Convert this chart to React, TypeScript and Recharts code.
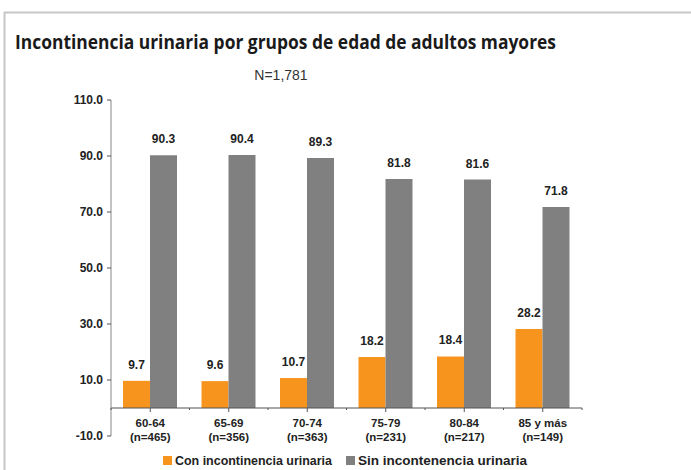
import React from "react";
import {
  BarChart,
  Bar,
  XAxis,
  YAxis,
  LabelList,
  ReferenceLine,
} from "recharts";

const groups = ["60-64", "65-69", "70-74", "75-79", "80-84", "85 y más"];
const sampleSizes = ["(n=465)", "(n=356)", "(n=363)", "(n=231)", "(n=217)", "(n=149)"];
const conIncontinencia = [9.7, 9.6, 10.7, 18.2, 18.4, 28.2];
const sinIncontinencia = [90.3, 90.4, 89.3, 81.8, 81.6, 71.8];
const yTicks = [-10, 10, 30, 50, 70, 90, 110];

const ORANGE = "#F7941D";
const GRAY = "#808080";
const TEXT = "#222";

const W = 691;
const H = 470;
const PLOT_TOP = 100;
const PLOT_BOTTOM = 436;
const PLOT_LEFT = 111;
const PLOT_RIGHT = 582;
const ZERO_Y = PLOT_TOP + ((PLOT_BOTTOM - PLOT_TOP) * 110) / 120;
const BAND = (PLOT_RIGHT - PLOT_LEFT) / groups.length;

const data = groups.map((g, i) => ({
  name: g,
  n: sampleSizes[i],
  con: conIncontinencia[i],
  sin: sinIncontinencia[i],
}));

const font = "'Liberation Sans', Arial, sans-serif";

function GroupTick(props: any) {
  const { x, payload, index } = props;
  const row = data[index];
  return (
    <g>
      <line x1={x} x2={x} y1={ZERO_Y} y2={ZERO_Y + 4} stroke="#555" />
      <line x1={x + BAND / 2} x2={x + BAND / 2} y1={ZERO_Y} y2={ZERO_Y + 2} stroke="#555" />
      {index === 0 && (
        <line x1={x - BAND / 2} x2={x - BAND / 2} y1={ZERO_Y} y2={ZERO_Y + 2} stroke="#555" />
      )}
      <text
        x={x}
        y={ZERO_Y + 19}
        textAnchor="middle"
        fontFamily={font}
        fontWeight="bold"
        fontSize={11.5}
        fill={TEXT}
      >
        {payload.value}
      </text>
      <text
        x={x}
        y={ZERO_Y + 33}
        textAnchor="middle"
        fontFamily={font}
        fontWeight="bold"
        fontSize={11.5}
        fill={TEXT}
      >
        {row ? row.n : ""}
      </text>
    </g>
  );
}

export default function App() {
  return (
    <div
      style={{
        position: "absolute",
        left: 0,
        top: 0,
        width: W,
        height: H,
        background: "#fff",
        overflow: "hidden",
      }}
    >
      <svg width={W} height={H} style={{ position: "absolute", left: 0, top: 0 }}>
        <line x1={4} x2={W} y1={12.5} y2={12.5} stroke="#c6c6c6" strokeWidth={2} />
        <line x1={4.5} x2={4.5} y1={12} y2={H} stroke="#c6c6c6" strokeWidth={2} />
        <text
          x={15}
          y={49}
          fontFamily="'Open Sans', sans-serif"
          fontWeight="bold"
          fontSize={19}
          fill="#1a1a1a"
          textLength={541}
          lengthAdjust="spacingAndGlyphs"
        >
          Incontinencia urinaria por grupos de edad de adultos mayores
        </text>
        <text
          x={281}
          y={80}
          textAnchor="middle"
          fontFamily={font}
          fontSize={14}
          fill="#333"
        >
          N=1,781
        </text>
      </svg>
      <div style={{ position: "absolute", left: 0, top: 0 }}>
        <BarChart
          width={W}
          height={H}
          data={data}
          margin={{ top: PLOT_TOP, right: W - PLOT_RIGHT, bottom: H - PLOT_BOTTOM - 1, left: PLOT_LEFT - 60 }}
          barGap={0}
          barSize={27}
        >
          <YAxis
            width={60}
            domain={[-10, 110]}
            ticks={yTicks}
            interval={0}
            tickFormatter={(v: number) => v.toFixed(1)}
            tick={{ fontFamily: font, fontWeight: "bold", fontSize: 12, fill: TEXT }}
            tickSize={4}
            tickMargin={4}
            tickLine={{ stroke: "#555" }}
            axisLine={{ stroke: "#888" }}
            allowDataOverflow
          />
          <XAxis
            dataKey="name"
            height={1}
            axisLine={false}
            tickLine={false}
            interval={0}
            tick={<GroupTick />}
          />
          <ReferenceLine y={0} stroke="#555" />
          <Bar dataKey="con" fill={ORANGE} isAnimationActive={false}>
            <LabelList
              dataKey="con"
              position="top"
              offset={12}
              formatter={(v: number) => v.toFixed(1)}
              style={{ fontFamily: font, fontWeight: "bold", fontSize: 12, fill: TEXT }}
            />
          </Bar>
          <Bar dataKey="sin" fill={GRAY} isAnimationActive={false}>
            <LabelList
              dataKey="sin"
              position="top"
              offset={12}
              formatter={(v: number) => v.toFixed(1)}
              style={{ fontFamily: font, fontWeight: "bold", fontSize: 12, fill: TEXT }}
            />
          </Bar>
        </BarChart>
      </div>
      <svg width={W} height={H} style={{ position: "absolute", left: 0, top: 0, pointerEvents: "none" }}>
        <rect x={163} y={456} width={9} height={9} fill={ORANGE} />
        <text
          x={175}
          y={465}
          fontFamily={font}
          fontWeight="bold"
          fontSize={12}
          fill={TEXT}
          textLength={157}
          lengthAdjust="spacingAndGlyphs"
        >
          Con incontinencia urinaria
        </text>
        <rect x={346} y={456} width={9} height={9} fill={GRAY} />
        <text
          x={358}
          y={465}
          fontFamily={font}
          fontWeight="bold"
          fontSize={12}
          fill={TEXT}
          textLength={169}
          lengthAdjust="spacingAndGlyphs"
        >
          Sin incontenencia urinaria
        </text>
      </svg>
    </div>
  );
}
